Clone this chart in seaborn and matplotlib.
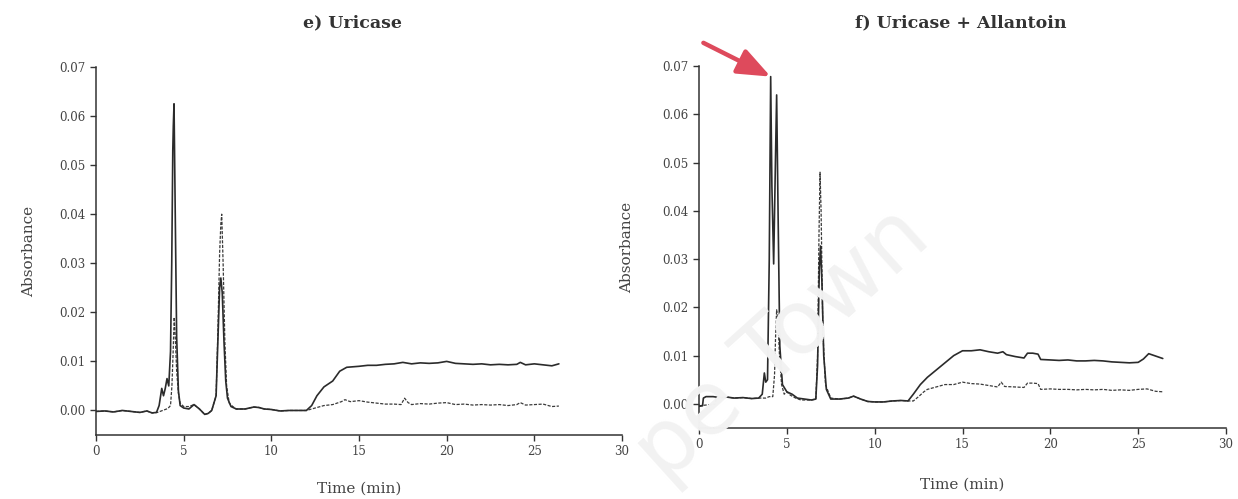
import matplotlib
matplotlib.use("Agg")
import matplotlib.pyplot as plt
import seaborn as sns
import pandas as pd

sns.set_theme(style="white")
plt.rcParams['font.family'] = ['DejaVu Serif']

# ---------------- Panel e) Uricase ----------------
e_solid_t = [0, 0.5, 1.0, 1.5, 2.0, 2.5, 2.9, 3.2, 3.45, 3.6, 3.75, 3.85, 3.95, 4.05, 4.15, 4.25,
             4.32, 4.38, 4.41, 4.45, 4.52, 4.6, 4.7, 4.8, 5.0, 5.3, 5.59, 5.9, 6.2, 6.4, 6.6,
             6.85, 6.95, 7.05, 7.12, 7.2, 7.3, 7.4, 7.5, 7.7, 8.0, 8.5, 9.0, 9.3, 9.6, 10.0,
             10.5, 11.0, 11.5, 12.0, 12.3, 12.6, 13.0, 13.5, 13.9, 14.3, 15.0, 15.5, 16.0, 16.5,
             17.0, 17.5, 18.0, 18.5, 19.0, 19.5, 20.0, 20.5, 21.0, 21.5, 22.0, 22.5, 23.0, 23.5,
             24.0, 24.2, 24.5, 25.0, 25.5, 26.0, 26.4]
e_solid_v = [-0.0002, -0.0001, -0.0003, 0.0000, -0.0002, -0.0004, -0.0001, -0.0005, -0.0004, 0.0010,
             0.0045, 0.0030, 0.0045, 0.0065, 0.0050, 0.0120, 0.0300, 0.0530, 0.0580, 0.0625,
             0.0400, 0.0150, 0.0040, 0.0010, 0.0005, 0.0003, 0.0012, 0.0003, -0.0008, -0.0006,
             0.0000, 0.0030, 0.0140, 0.0250, 0.0270, 0.0240, 0.0140, 0.0060, 0.0025, 0.0008,
             0.0003, 0.0003, 0.0007, 0.0006, 0.0003, 0.0002, -0.0001, 0.0000, 0.0000, 0.0000,
             0.0010, 0.0030, 0.0048, 0.0060, 0.0080, 0.0088, 0.0090, 0.0092, 0.0092, 0.0094,
             0.0095, 0.0098, 0.0095, 0.0097, 0.0096, 0.0097, 0.0100, 0.0096, 0.0095, 0.0094,
             0.0095, 0.0093, 0.0094, 0.0093, 0.0094, 0.0098, 0.0093, 0.0095, 0.0093, 0.0091, 0.0095]

e_dash_t = [0, 0.5, 1.0, 1.5, 2.0, 2.5, 2.9, 3.2, 3.5, 3.8, 4.1, 4.25, 4.33, 4.4, 4.46, 4.52,
            4.6, 4.7, 4.8, 5.0, 5.3, 5.59, 5.9, 6.2, 6.4, 6.6, 6.85, 6.95, 7.05, 7.12, 7.17,
            7.25, 7.35, 7.45, 7.6, 7.8, 8.0, 8.5, 9.0, 9.3, 9.6, 10.0, 10.5, 11.0, 11.5, 12.0,
            12.3, 12.6, 13.0, 13.5, 14.0, 14.2, 14.5, 15.0, 15.5, 16.0, 16.5, 17.0, 17.4, 17.6,
            17.8, 18.0, 18.5, 19.0, 19.5, 20.0, 20.5, 21.0, 21.5, 22.0, 22.5, 23.0, 23.5, 24.0,
            24.2, 24.5, 25.0, 25.5, 26.0, 26.4]
e_dash_v = [-0.0002, -0.0001, -0.0003, 0.0000, -0.0002, -0.0004, -0.0001, -0.0005, -0.0004, 0.0000,
            0.0004, 0.0010, 0.0050, 0.0120, 0.0190, 0.0150, 0.0080, 0.0035, 0.0015, 0.0008,
            0.0008, 0.0012, 0.0003, -0.0008, -0.0006, 0.0000, 0.0030, 0.0160, 0.0320, 0.0380,
            0.0400, 0.0300, 0.0140, 0.0050, 0.0015, 0.0008, 0.0003, 0.0003, 0.0007, 0.0006,
            0.0003, 0.0002, -0.0001, 0.0000, 0.0000, 0.0000, 0.0003, 0.0006, 0.0010, 0.0012,
            0.0018, 0.0022, 0.0018, 0.0020, 0.0017, 0.0015, 0.0013, 0.0013, 0.0012, 0.0025,
            0.0016, 0.0012, 0.0014, 0.0013, 0.0015, 0.0016, 0.0012, 0.0013, 0.0011, 0.0012,
            0.0011, 0.0012, 0.0010, 0.0012, 0.0016, 0.0011, 0.0012, 0.0013, 0.0008, 0.0009]

# ---------------- Panel f) Uricase + Allantoin ----------------
f_solid_t = [0, 0.2, 0.25, 0.4, 0.8, 1.2, 1.6, 2.0, 2.5, 3.0, 3.4, 3.6, 3.72, 3.8, 3.9, 4.0,
             4.08, 4.15, 4.25, 4.35, 4.42, 4.5, 4.6, 4.75, 5.0, 5.3, 5.6, 6.0, 6.4, 6.65, 6.75,
             6.85, 6.92, 7.0, 7.1, 7.25, 7.5, 8.0, 8.5, 8.8, 9.2, 9.6, 10.0, 10.5, 11.0, 11.5,
             11.9, 12.2, 12.6, 13.0, 13.5, 14.0, 14.5, 15.0, 15.5, 16.0, 16.5, 17.0, 17.3, 17.5,
             18.0, 18.5, 18.7, 19.0, 19.3, 19.45, 20.0, 20.5, 21.0, 21.5, 22.0, 22.5, 23.0, 23.5,
             24.0, 24.5, 25.0, 25.3, 25.6, 26.0, 26.4]
f_solid_v = [-0.0005, -0.0004, 0.0012, 0.0015, 0.0015, 0.0013, 0.0014, 0.0012, 0.0013, 0.0011,
             0.0012, 0.0020, 0.0064, 0.0045, 0.0050, 0.0300, 0.0678, 0.0450, 0.0290, 0.0500,
             0.0640, 0.0400, 0.0120, 0.0040, 0.0025, 0.0020, 0.0012, 0.0010, 0.0008, 0.0010,
             0.0080, 0.0280, 0.0327, 0.0250, 0.0100, 0.0030, 0.0010, 0.0010, 0.0012, 0.0016,
             0.0010, 0.0005, 0.0004, 0.0004, 0.0006, 0.0007, 0.0006, 0.0020, 0.0040, 0.0055,
             0.0070, 0.0085, 0.0100, 0.0110, 0.0110, 0.0112, 0.0108, 0.0105, 0.0108, 0.0102,
             0.0098, 0.0095, 0.0105, 0.0105, 0.0103, 0.0092, 0.0091, 0.0090, 0.0091, 0.0089,
             0.0089, 0.0090, 0.0089, 0.0087, 0.0086, 0.0085, 0.0086, 0.0093, 0.0104, 0.0099, 0.0094]

f_dash_t = [0, 0.5, 0.9, 1.0, 1.2, 1.6, 2.0, 2.5, 3.0, 3.4, 3.8, 4.0, 4.2, 4.3, 4.36, 4.42,
            4.5, 4.58, 4.7, 4.85, 5.0, 5.2, 5.5, 5.8, 6.4, 6.65, 6.75, 6.83, 6.89, 6.95, 7.05,
            7.2, 7.5, 8.0, 8.5, 8.8, 9.2, 9.6, 10.0, 10.5, 11.0, 11.5, 12.0, 12.2, 12.5, 12.8,
            13.0, 13.5, 14.0, 14.5, 15.0, 15.5, 16.0, 16.5, 17.0, 17.2, 17.4, 18.0, 18.5, 18.7,
            19.0, 19.3, 19.45, 20.0, 20.5, 21.0, 21.5, 22.0, 22.5, 23.0, 23.5, 24.0, 24.5, 25.0,
            25.5, 26.0, 26.4]
f_dash_v = [-0.0004, -0.0002, -0.0001, 0.0013, 0.0013, 0.0014, 0.0012, 0.0013, 0.0011, 0.0012,
            0.0012, 0.0015, 0.0015, 0.0060, 0.0140, 0.0195, 0.0170, 0.0100, 0.0040, 0.0020,
            0.0025, 0.0018, 0.0012, 0.0008, 0.0008, 0.0010, 0.0100, 0.0350, 0.0480, 0.0400,
            0.0150, 0.0040, 0.0012, 0.0010, 0.0012, 0.0016, 0.0010, 0.0005, 0.0004, 0.0004,
            0.0006, 0.0007, 0.0006, 0.0006, 0.0015, 0.0025, 0.0030, 0.0035, 0.0040, 0.0040,
            0.0045, 0.0042, 0.0041, 0.0038, 0.0035, 0.0045, 0.0036, 0.0035, 0.0034, 0.0043,
            0.0043, 0.0042, 0.0030, 0.0031, 0.0030, 0.0030, 0.0029, 0.0030, 0.0029, 0.0030,
            0.0028, 0.0029, 0.0028, 0.0030, 0.0031, 0.0026, 0.0025]

x_ticks = [0, 5, 10, 15, 20, 25, 30]
y_ticks = [0.00, 0.01, 0.02, 0.03, 0.04, 0.05, 0.06, 0.07]
titles = ["e) Uricase", "f) Uricase + Allantoin"]
x_label = "Time (min)"
y_label = "Absorbance"
watermark = "pe Town"

fig = plt.figure(figsize=(12.38, 4.99), dpi=100)

# faint watermark (drawn first, behind everything)
fig.text(782 / 1238, 1 - 345 / 499, watermark, ha="center", va="center",
         rotation=42, fontsize=64, color="#f2f2f2", family="DejaVu Sans", zorder=0)

ax1 = fig.add_axes([96 / 1238, 1 - 435 / 499, 526 / 1238, 368 / 499])
ax2 = fig.add_axes([699 / 1238, 1 - 428 / 499, 527 / 1238, 362 / 499])

line_col = "#2b2b2b"
text_col = "#444444"

panels = [
    (ax1, e_solid_t, e_solid_v, e_dash_t, e_dash_v),
    (ax2, f_solid_t, f_solid_v, f_dash_t, f_dash_v),
]

for i, (ax, st, sv, dt, dv) in enumerate(panels):
    sdf = pd.DataFrame({"t": st, "v": sv})
    ddf = pd.DataFrame({"t": dt, "v": dv})
    sns.lineplot(data=ddf, x="t", y="v", ax=ax, color="#3a3a3a", lw=0.9,
                 linestyle=(0, (2.5, 1.2)), sort=False, zorder=3)
    sns.lineplot(data=sdf, x="t", y="v", ax=ax, color=line_col, lw=1.2,
                 sort=False, zorder=4)
    ax.set_xlim(0, 30)
    ax.set_ylim(-0.005, 0.07)
    ax.set_xticks(x_ticks)
    ax.set_yticks(y_ticks)
    ax.set_xticklabels([str(x) for x in x_ticks])
    ax.set_yticklabels([f"{y:.2f}" for y in y_ticks])
    for s in ["top", "right"]:
        ax.spines[s].set_visible(False)
    for s in ["left", "bottom"]:
        ax.spines[s].set_color("#333333")
        ax.spines[s].set_linewidth(1.1)
    ax.tick_params(axis="both", direction="out", length=4, width=1, color="#333333",
                   labelsize=8.5, labelcolor=text_col, left=True, bottom=True)
    ax.set_xlabel(x_label, fontsize=11, color=text_col, labelpad=17 if i == 0 else 19)
    ax.set_ylabel(y_label, fontsize=11, color=text_col, labelpad=17 if i == 0 else 20)
    ax.set_facecolor("none")

fig.text(352 / 1238, 1 - 23 / 499, titles[0], ha="center", va="center",
         fontsize=12.5, fontweight="bold", color="#333333")
fig.text(961 / 1238, 1 - 23 / 499, titles[1], ha="center", va="center",
         fontsize=12.5, fontweight="bold", color="#333333")

# Red arrow pointing at the highest peak
ax2.annotate("", xy=(4.08, 0.0678), xytext=(0.25, 0.0748),
             arrowprops=dict(arrowstyle="-|>,head_length=1.0,head_width=0.4",
                             color="#de4a5c", lw=3.2, mutation_scale=20,
                             shrinkA=0, shrinkB=0),
             annotation_clip=False, zorder=6)

fig.savefig("out.png", dpi=100)
